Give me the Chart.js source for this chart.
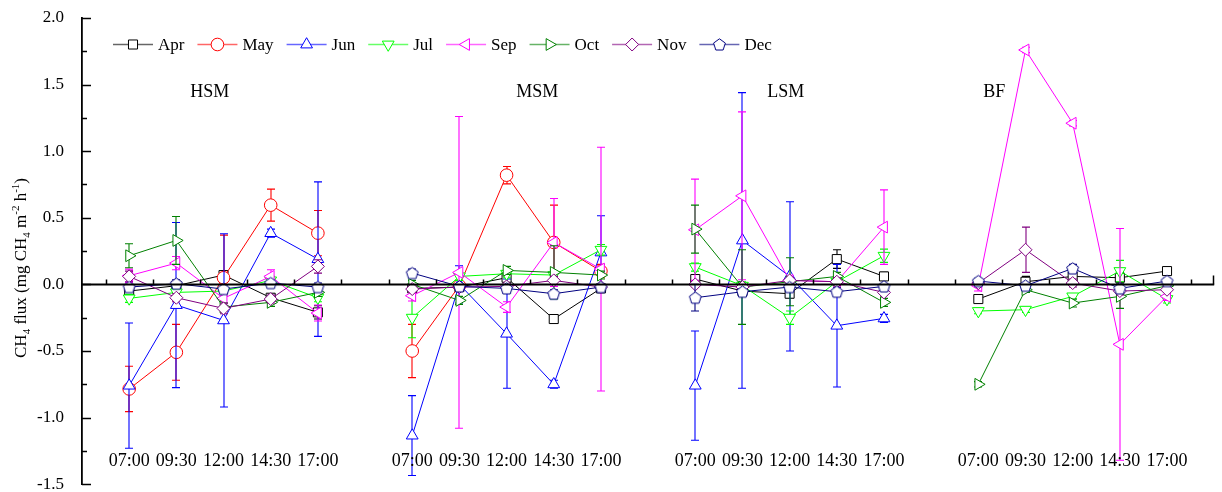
<!DOCTYPE html>
<html>
<head>
<meta charset="utf-8">
<script src="https://cdn.jsdelivr.net/npm/chart.js@4.4.0/dist/chart.umd.min.js"></script>
<style>
  body { margin: 0; background: #fff; }
  #wrap { width: 1222px; height: 492px; }
</style>
</head>
<body>
<div id="wrap"><canvas id="fluxChart"></canvas></div>
<script>
// sites and sampling times
const sites = ['HSM', 'MSM', 'LSM', 'BF'];
const times = ['07:00', '09:30', '12:00', '14:30', '17:00'];
const months = ['Apr', 'May', 'Jun', 'Jul', 'Sep', 'Oct', 'Nov', 'Dec'];
const yTicks = [-1.5, -1.0, -0.5, 0.0, 0.5, 1.0, 1.5, 2.0];

// CH4 flux per month: HSM x5, MSM x5, LSM x5, BF x5 (null = no data)
const apr = [-0.05, -0.01, 0.07, -0.10, -0.21,  -0.03, -0.02, 0.05, -0.26, -0.03,  0.04, -0.05, -0.07, 0.19, 0.06,  -0.11, 0.02, 0.06, 0.05, 0.10];
const may = [-0.785, -0.51, 0.05, 0.595, 0.385,  -0.50, -0.01, 0.82, 0.315, 0.10,  null, null, null, null, null,  null, null, null, null, null];
const jun = [-0.76, -0.155, -0.27, 0.385, 0.19,  -1.135, 0.0, -0.37, -0.75, 0.24,  -0.76, 0.33, 0.06, -0.31, -0.255,  null, null, null, null, null];
const jul = [-0.105, -0.06, -0.05, 0.03, -0.10,  -0.25, 0.06, 0.08, 0.07, 0.26,  0.13, -0.01, -0.25, 0.02, 0.215,  -0.20, -0.19, -0.09, 0.10, -0.11];
const sep = [0.065, 0.16, -0.105, 0.06, -0.215,  -0.085, 0.09, -0.17, 0.315, 0.115,  0.41, 0.665, 0.03, 0.02, 0.43,  -0.01, 1.76, 1.21, -0.45, -0.09];
const oct = [0.215, 0.33, -0.17, -0.135, -0.06,  0.0, -0.12, 0.105, 0.09, 0.07,  0.415, -0.02, 0.02, 0.06, -0.135,  -0.75, -0.04, -0.14, -0.09, -0.01];
const nov = [0.06, -0.10, -0.18, -0.11, 0.135,  -0.035, -0.02, -0.015, 0.03, -0.02,  0.0, -0.02, 0.03, 0.02, -0.06,  0.01, 0.26, 0.01, -0.05, -0.04];
const dec = [-0.02, 0.005, -0.035, 0.01, -0.02,  0.085, -0.015, -0.03, -0.07, -0.02,  -0.10, -0.055, -0.02, -0.055, -0.015,  0.025, -0.01, 0.12, -0.03, 0.025];

// standard errors (same layout)
const aprErr = [0.03, 0.03, 0.03, 0.03, 0.05,  0.02, 0.03, 0.03, 0.03, 0.03,  0.03, 0.02, 0.03, 0.07, 0.03,  0.02, 0.04, 0.03, 0.04, 0.03];
const mayErr = [0.17, 0.21, 0.32, 0.12, 0.17,  0.20, 0.03, 0.065, 0.28, 0.05,  null, null, null, null, null,  null, null, null, null, null];
const junErr = [0.47, 0.62, 0.65, 0.03, 0.58,  0.30, 0.14, 0.41, 0.03, 0.275,  0.41, 1.11, 0.56, 0.46, 0.03,  null, null, null, null, null];
const julErr = [0.03, 0.03, 0.03, 0.03, 0.03,  0.15, 0.03, 0.03, 0.03, 0.04,  0.03, 0.03, 0.05, 0.03, 0.05,  0.02, 0.02, 0.02, 0.08, 0.03];
const sepErr = [0.05, 0.05, 0.04, 0.05, 0.06,  0.04, 1.17, 0.04, 0.33, 0.915,  0.38, 0.63, 0.02, 0.04, 0.28,  0.04, 0.02, 0.02, 0.87, 0.03];
const octErr = [0.09, 0.18, 0.03, 0.03, 0.03,  0.03, 0.03, 0.03, 0.20, 0.03,  0.18, 0.28, 0.18, 0.03, 0.03,  0.02, 0.02, 0.03, 0.09, 0.02];
const novErr = [0.04, 0.03, 0.04, 0.03, 0.05,  0.02, 0.02, 0.02, 0.03, 0.02,  0.02, 0.02, 0.02, 0.03, 0.02,  0.02, 0.17, 0.03, 0.03, 0.02];
const decErr = [0.02, 0.03, 0.03, 0.02, 0.03,  0.03, 0.02, 0.02, 0.03, 0.02,  0.10, 0.02, 0.02, 0.03, 0.02,  0.02, 0.02, 0.03, 0.03, 0.02];

const FONT = 'Liberation Serif, Times New Roman, serif';

// pentagon marker for Dec (white filled like the other symbols)
function makePentagon(color) {
  const c = document.createElement('canvas');
  c.width = 15; c.height = 15;
  const g = c.getContext('2d');
  g.strokeStyle = color;
  g.fillStyle = '#fff';
  g.lineWidth = 1;
  g.beginPath();
  for (let k = 0; k < 5; k++) {
    const a = -Math.PI / 2 + k * 2 * Math.PI / 5;
    const px = 7.5 + 6.2 * Math.cos(a), py = 8 + 6.2 * Math.sin(a);
    if (k === 0) g.moveTo(px, py); else g.lineTo(px, py);
  }
  g.closePath();
  g.fill();
  g.stroke();
  return c;
}

const series = [
  { label: 'Apr', values: apr, err: aprErr, color: '#000000', style: 'rect', radius: 6.4, rot: 0 },
  { label: 'May', values: may, err: mayErr, color: '#FF0000', style: 'circle', radius: 6.3, rot: 0 },
  { label: 'Jun', values: jun, err: junErr, color: '#0000FF', style: 'triangle', radius: 6.8, rot: 0 },
  { label: 'Jul', values: jul, err: julErr, color: '#00FF00', style: 'triangle', radius: 6.8, rot: 180 },
  { label: 'Sep', values: sep, err: sepErr, color: '#FF00FF', style: 'triangle', radius: 6.8, rot: 270 },
  { label: 'Oct', values: oct, err: octErr, color: '#008000', style: 'triangle', radius: 6.8, rot: 90 },
  { label: 'Nov', values: nov, err: novErr, color: '#800080', style: 'rectRot', radius: 6.5, rot: 0 },
  { label: 'Dec', values: dec, err: decErr, color: '#000080', style: makePentagon('#000080'), radius: 6, rot: 0 }
];

function toPoints(values) {
  const pts = [];
  sites.forEach((s, p) => {
    times.forEach((t, i) => pts.push({ x: p * 6 + i, y: values[p * 5 + i] }));
    pts.push({ x: p * 6 + 5, y: null });
  });
  return pts;
}

const datasets = series.map((s, idx) => ({
  label: s.label,
  data: toPoints(s.values),
  errors: s.err,
  borderColor: s.color,
  borderWidth: 1,
  backgroundColor: '#fff',
  pointStyle: s.style,
  pointRadius: s.radius,
  pointRotation: s.rot,
  pointBorderColor: s.color,
  pointBorderWidth: 1,
  pointBackgroundColor: '#fff',
  tension: 0,
  spanGaps: false,
  // Apr drawn first, Dec last (on top)
  order: series.length - idx
}));

// error bars, drawn just before each series so later series cover earlier ones
const errorBars = {
  id: 'errorBars',
  beforeDatasetDraw(chart, args) {
    const ctx = chart.ctx, y = chart.scales.y;
    const ds = chart.data.datasets[args.index];
    const meta = args.meta;
    ctx.save();
    ctx.lineWidth = 1.1;
    ctx.strokeStyle = ds.borderColor;
    ds.data.forEach((pt, j) => {
      if (pt.y === null) return;
      const e = ds.errors[Math.floor(j / 6) * 5 + (j % 6)];
      if (!e) return;
      const px = Math.round(meta.data[j].x);
      const top = y.getPixelForValue(pt.y + e), bot = y.getPixelForValue(pt.y - e);
      ctx.beginPath();
      ctx.moveTo(px, top); ctx.lineTo(px, bot);
      ctx.moveTo(px - 4, top); ctx.lineTo(px + 4, top);
      ctx.moveTo(px - 4, bot); ctx.lineTo(px + 4, bot);
      ctx.stroke();
    });
    ctx.restore();
  }
};

function drawMarker(ctx, s, x, y) {
  ctx.save();
  ctx.strokeStyle = s.color;
  ctx.fillStyle = '#fff';
  ctx.lineWidth = 1;
  if (typeof s.style !== 'string') {
    ctx.drawImage(s.style, x - s.style.width / 2, y - s.style.height / 2);
  } else {
    ctx.translate(x, y);
    ctx.rotate(s.rot * Math.PI / 180);
    ctx.beginPath();
    const r = s.radius;
    if (s.style === 'circle') ctx.arc(0, 0, r, 0, Math.PI * 2);
    else if (s.style === 'rect') { const h = r * Math.SQRT1_2; ctx.rect(-h, -h, 2 * h, 2 * h); }
    else if (s.style === 'rectRot') { ctx.moveTo(0, -r); ctx.lineTo(r, 0); ctx.lineTo(0, r); ctx.lineTo(-r, 0); ctx.closePath(); }
    else if (s.style === 'triangle') {
      for (let k = 0; k < 3; k++) {
        const a = k * 2 * Math.PI / 3;
        const px = Math.sin(a) * r, py = -Math.cos(a) * r;
        if (k === 0) ctx.moveTo(px, py); else ctx.lineTo(px, py);
      }
      ctx.closePath();
    }
    ctx.fill();
    ctx.stroke();
  }
  ctx.restore();
}

// axes decorations, labels and legend
const decorations = {
  id: 'decorations',
  afterDraw(chart) {
    const ctx = chart.ctx, xs = chart.scales.x, ys = chart.scales.y, area = chart.chartArea;
    ctx.save();
    ctx.strokeStyle = '#000';
    ctx.fillStyle = '#000';

    // inward ticks on the y axis
    ctx.lineWidth = 1.5;
    for (let v = -1.5; v <= 2.0001; v += 0.25) {
      const py = Math.round(ys.getPixelForValue(v)) + 0.5;
      const major = Math.abs(v * 2 - Math.round(v * 2)) < 1e-6;
      ctx.beginPath();
      ctx.moveTo(area.left, py);
      ctx.lineTo(area.left + (major ? 9 : 5), py);
      ctx.stroke();
    }

    // zero line with ticks
    const y0 = Math.round(ys.getPixelForValue(0)) + 0.5;
    ctx.lineWidth = 1.8;
    ctx.beginPath();
    ctx.moveTo(area.left, y0);
    ctx.lineTo(xs.getPixelForValue(23), y0);
    ctx.stroke();
    ctx.lineWidth = 1.5;
    ctx.beginPath();
    for (let v = -0.5; v < 23; v += 1) {
      const px = Math.round(xs.getPixelForValue(v)) + 0.5;
      ctx.moveTo(px, y0); ctx.lineTo(px, y0 - 5);
    }
    const pe = Math.round(xs.getPixelForValue(23)) - 0.5;
    ctx.moveTo(pe, y0); ctx.lineTo(pe, y0 - 9);
    ctx.stroke();

    // time labels in each panel
    ctx.font = '18px ' + FONT;
    ctx.textAlign = 'center';
    ctx.textBaseline = 'middle';
    const ty = ys.getPixelForValue(-1.33);
    sites.forEach((s, p) => {
      times.forEach((t, i) => ctx.fillText(t, xs.getPixelForValue(p * 6 + i), ty));
    });

    // panel names
    const labelX = [1.71, 8.65, 13.92, 18.34];
    const ly = ys.getPixelForValue(1.44);
    sites.forEach((s, p) => ctx.fillText(s, xs.getPixelForValue(labelX[p]), ly));

    // legend
    ctx.font = '17px ' + FONT;
    ctx.textAlign = 'left';
    let lx = 113;
    const legY = 44.5;
    series.forEach(s => {
      ctx.strokeStyle = s.color;
      ctx.globalAlpha = 0.6;
      ctx.lineWidth = 1.5;
      ctx.beginPath();
      ctx.moveTo(lx, legY); ctx.lineTo(lx + 40, legY);
      ctx.stroke();
      ctx.globalAlpha = 1;
      drawMarker(ctx, s, lx + 20, legY);
      ctx.fillStyle = '#000';
      ctx.fillText(s.label, lx + 45, legY + 1);
      lx += 45 + ctx.measureText(s.label).width + 13;
    });

    // y axis title with sub/superscripts
    const parts = [
      ['CH', 0], ['4', 1], [' flux (mg CH', 0], ['4', 1], [' m', 0], ['-2', -1], [' h', 0], ['-1', -1], [')', 0]
    ];
    const big = '17px ' + FONT, small = '11px ' + FONT;
    let total = 0;
    parts.forEach(pt => { ctx.font = pt[1] ? small : big; total += ctx.measureText(pt[0]).width; });
    ctx.translate(20, 268);
    ctx.rotate(-Math.PI / 2);
    ctx.textBaseline = 'alphabetic';
    let cx = -total / 2;
    parts.forEach(pt => {
      ctx.font = pt[1] ? small : big;
      const dy = pt[1] === 1 ? 4 : (pt[1] === -1 ? -7 : 0);
      ctx.fillText(pt[0], cx, 6 + dy);
      cx += ctx.measureText(pt[0]).width;
    });
    ctx.restore();
  }
};

new Chart(document.getElementById('fluxChart'), {
  type: 'line',
  data: { datasets: datasets },
  options: {
    responsive: true,
    maintainAspectRatio: false,
    animation: false,
    events: [],
    layout: { padding: { top: 18, right: 6, bottom: 6, left: 0 } },
    plugins: { legend: { display: false }, tooltip: { enabled: false } },
    scales: {
      x: { type: 'linear', min: -1, max: 23, display: false },
      y: {
        min: -1.5, max: 2.0,
        afterBuildTicks(scale) { scale.ticks = yTicks.map(v => ({ value: v })); },
        afterFit(scale) { scale.width = 82; scale.paddingTop = 0; scale.paddingBottom = 0; },
        ticks: {
          callback: v => v.toFixed(1),
          font: { family: FONT, size: 17 },
          color: '#000',
          padding: 10
        },
        grid: { display: false },
        border: { display: true, color: '#000', width: 1.8 }
      }
    }
  },
  plugins: [errorBars, decorations]
});
</script>
</body>
</html>
